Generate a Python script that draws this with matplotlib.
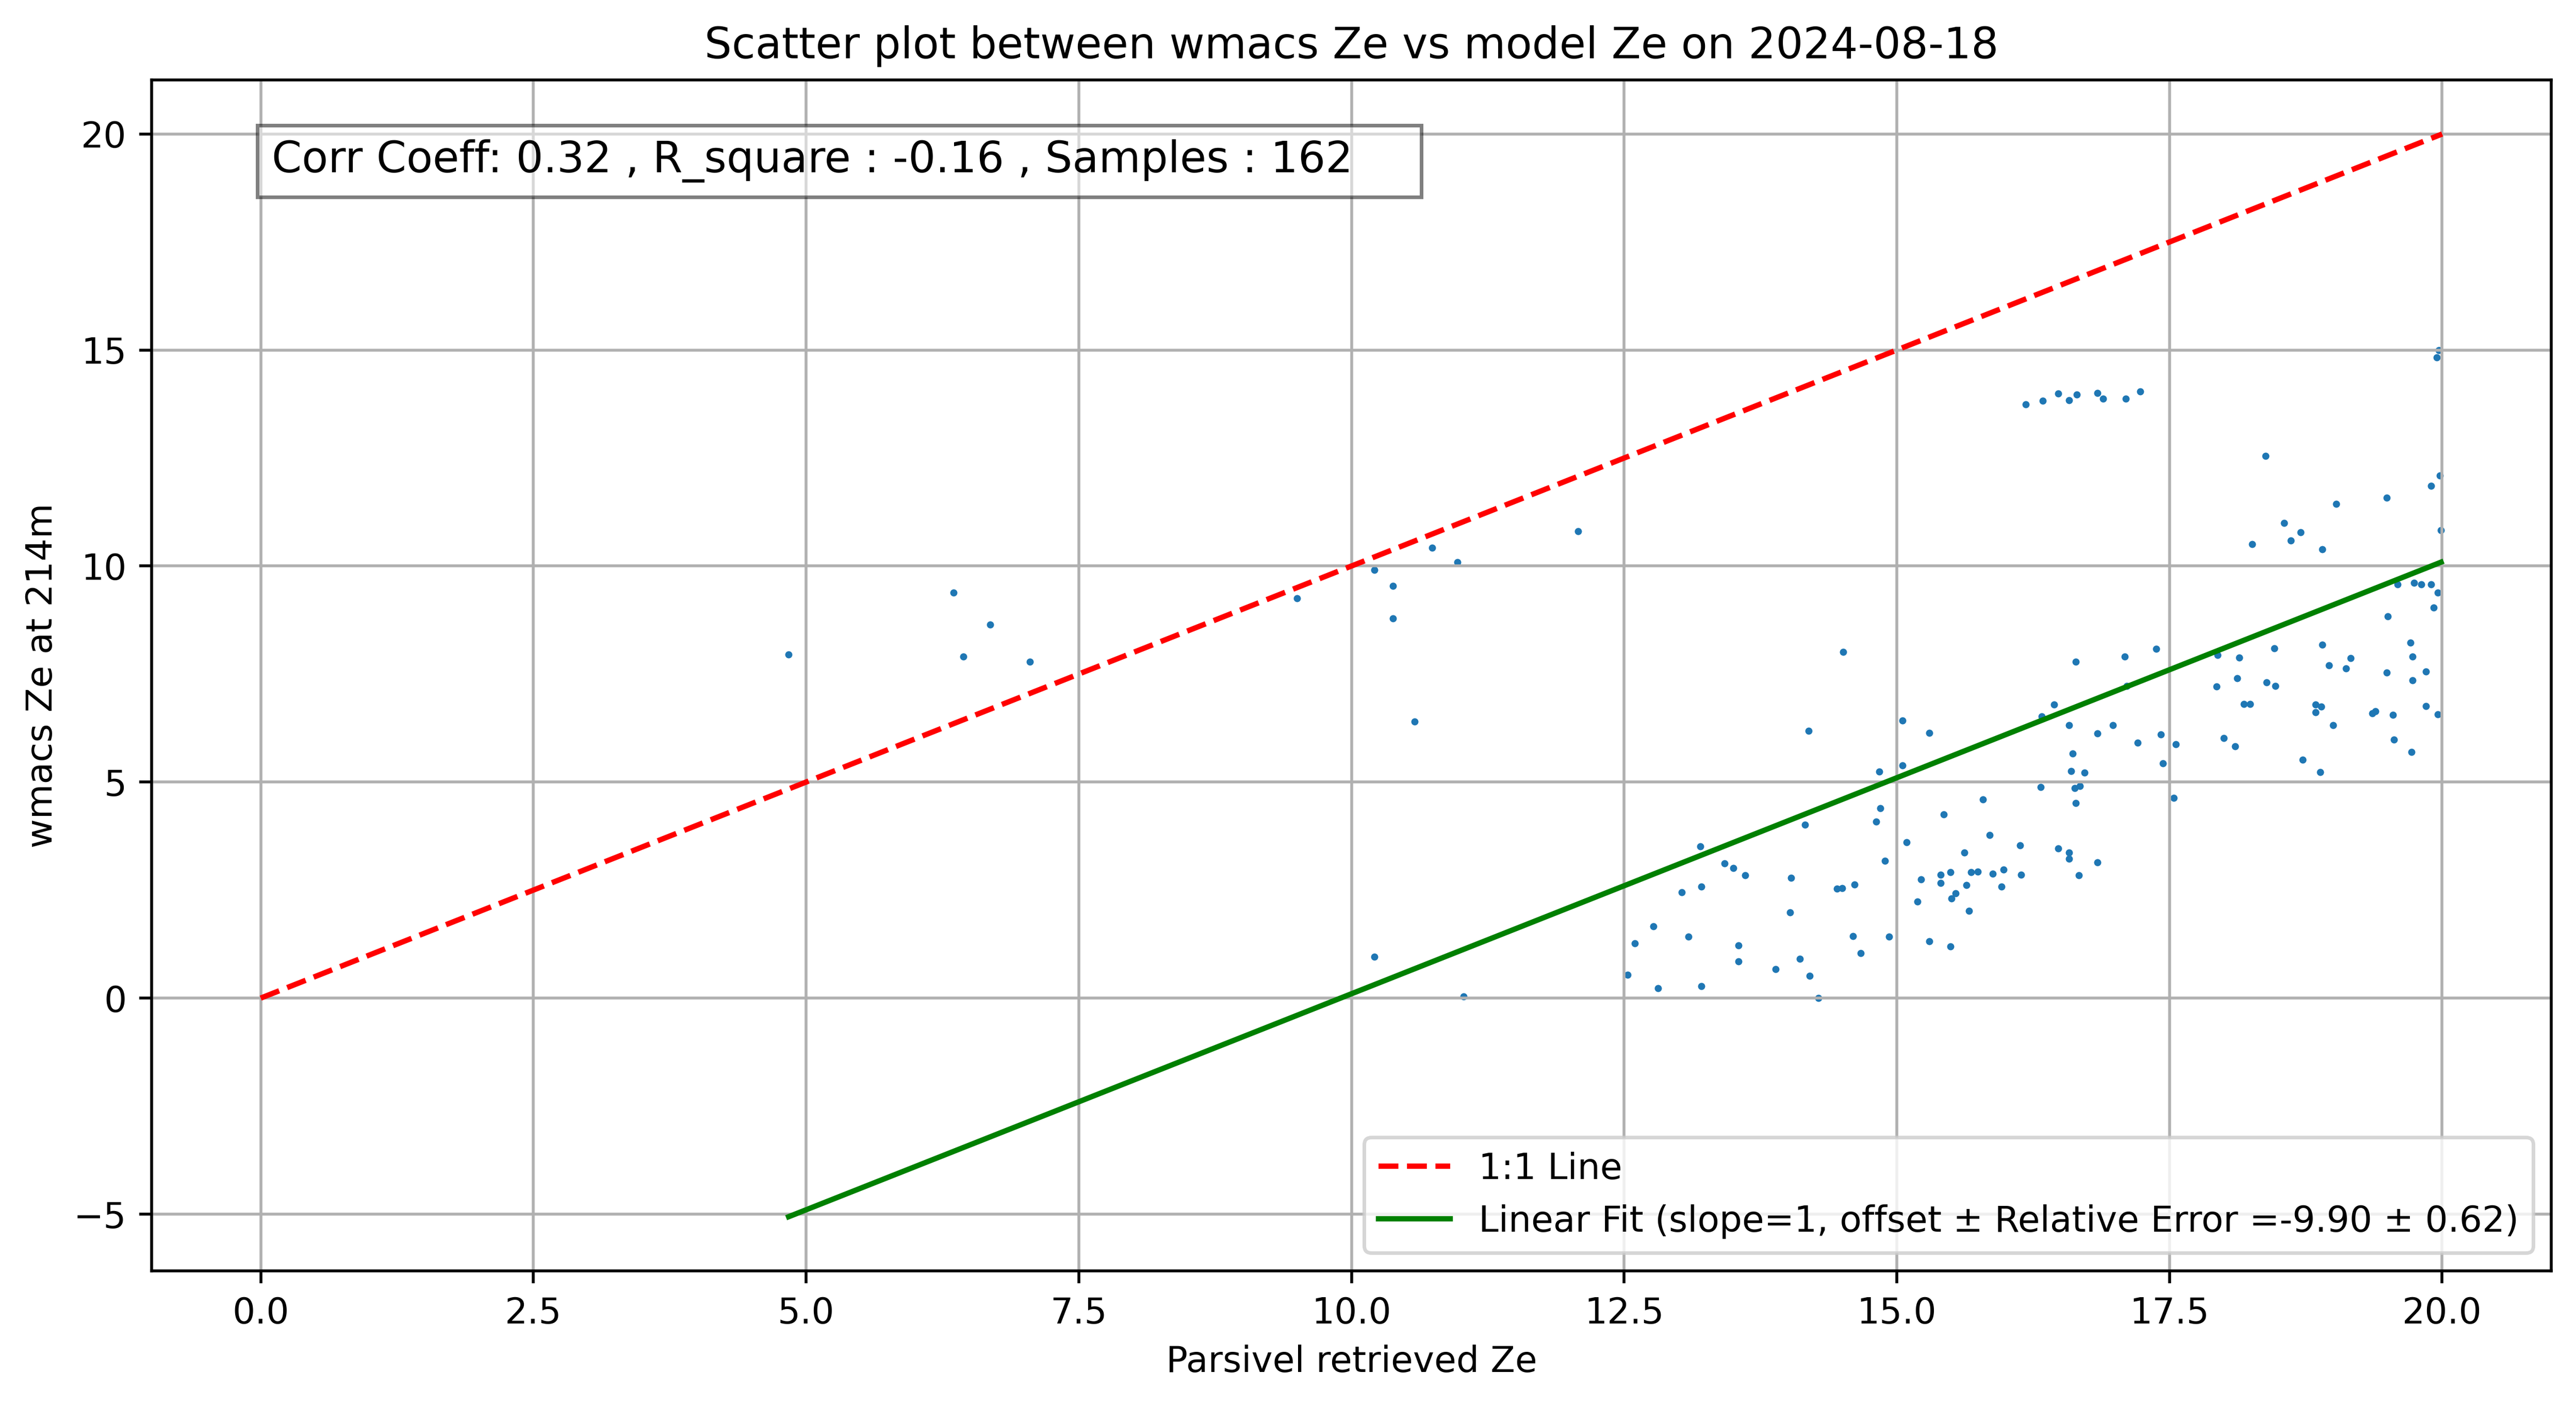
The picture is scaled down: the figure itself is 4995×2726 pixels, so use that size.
import numpy as np
import matplotlib
matplotlib.use("Agg")
import matplotlib.pyplot as plt

# values (162 samples)
ze_parsivel = [
    4.84, 6.35, 6.69, 6.44, 7.05, 9.50, 10.21, 10.38, 10.38, 10.58,
    10.74, 10.97, 12.08, 10.21, 11.03, 14.19, 14.16, 13.20, 13.42, 13.50,
    13.61, 14.03, 13.03, 13.21, 14.02, 12.77, 12.60, 13.09, 13.55, 13.55,
    14.11, 13.89, 14.20, 12.53, 12.81, 13.21, 14.28,
    14.51, 15.05, 15.30, 15.05, 14.84, 14.85, 14.81, 15.09, 14.89, 15.43,
    15.79, 15.85, 15.62, 15.49, 15.40, 15.40, 15.22, 15.68, 15.74, 15.88,
    15.98, 15.64, 15.96, 15.54, 15.50, 15.19, 15.66, 15.30, 15.49, 14.93,
    14.60, 14.67, 14.61, 14.45, 14.50,
    19.97, 19.95, 16.18, 16.34, 16.48, 16.58, 16.65, 16.84, 16.89, 17.10,
    17.23, 18.38, 19.98, 19.90, 19.49, 19.03, 18.55, 18.70, 18.61, 18.26,
    18.90, 19.99, 19.59, 19.74, 19.81, 19.90, 19.96, 19.92, 19.50, 19.71,
    19.73, 18.90, 18.46, 19.16, 18.96, 19.12, 19.85, 19.49, 19.73, 17.94,
    18.14, 18.12, 17.93, 18.39, 18.47, 18.18, 18.24, 18.84, 18.89, 18.84,
    19.36, 19.39, 19.85, 19.55, 19.96, 19.00, 19.56, 19.72, 18.00, 18.10,
    18.72, 18.88, 17.38, 17.09, 16.64, 17.11, 16.98, 16.58, 16.84, 17.21,
    17.42, 17.56, 16.44, 16.33, 16.61, 16.60, 16.72, 17.44, 16.32, 16.63,
    16.68, 16.64, 17.54,
    16.13, 16.48, 16.58, 16.58, 16.84, 16.67, 16.14,
]
ze_wmacs = [
    7.95, 9.38, 8.64, 7.90, 7.79, 9.25, 9.91, 9.54, 8.79, 6.40,
    10.42, 10.09, 10.80, 0.96, 0.04, 6.18, 4.01, 3.51, 3.12, 3.01,
    2.84, 2.78, 2.45, 2.58, 1.98, 1.66, 1.27, 1.42, 1.22, 0.85,
    0.91, 0.67, 0.51, 0.54, 0.23, 0.28, 0.00,
    8.01, 6.42, 6.14, 5.39, 5.24, 4.40, 4.09, 3.61, 3.18, 4.25,
    4.60, 3.77, 3.37, 2.91, 2.85, 2.67, 2.75, 2.91, 2.93, 2.88,
    2.97, 2.62, 2.58, 2.42, 2.30, 2.24, 2.02, 1.32, 1.20, 1.42,
    1.44, 1.04, 2.63, 2.53, 2.55,
    15.00, 14.83, 13.74, 13.82, 13.99, 13.84, 13.97, 14.00, 13.87, 13.87,
    14.04, 12.55, 12.10, 11.86, 11.58, 11.44, 11.00, 10.78, 10.59, 10.51,
    10.39, 10.83, 9.58, 9.61, 9.57, 9.57, 9.38, 9.04, 8.84, 8.23,
    7.91, 8.18, 8.10, 7.87, 7.70, 7.63, 7.56, 7.53, 7.35, 7.94,
    7.88, 7.40, 7.21, 7.31, 7.23, 6.81, 6.81, 6.79, 6.75, 6.61,
    6.59, 6.64, 6.76, 6.56, 6.57, 6.32, 5.98, 5.70, 6.02, 5.83,
    5.52, 5.23, 8.08, 7.91, 7.79, 7.22, 6.32, 6.32, 6.13, 5.91,
    6.10, 5.88, 6.80, 6.52, 5.66, 5.26, 5.22, 5.43, 4.88, 4.86,
    4.91, 4.51, 4.63,
    3.54, 3.46, 3.37, 3.23, 3.14, 2.84, 2.86,
]

one_to_one = [0, 20]
fit_offset = -9.90
fit_err = 0.62
corr_coeff = 0.32
r_square = -0.16
date_str = "2024-08-18"
height_str = "214m"

x = np.array(ze_parsivel)
y = np.array(ze_wmacs)
xs = np.sort(x)

fig = plt.figure(figsize=(9.99, 5.452), dpi=500)
ax = fig.add_axes([0.05886, 0.09611, 0.99039 - 0.05886, 0.94321 - 0.09611])

ax.scatter(x, y, s=4, linewidths=0, color="#1f77b4")
ax.plot(one_to_one, one_to_one, "r--", label="1:1 Line")
ax.plot(xs, xs + fit_offset, color="green",
        label=f"Linear Fit (slope=1, offset \u00b1 Relative Error ={fit_offset:.2f} \u00b1 {fit_err:.2f})")

# trailing spaces widen the box like in the original
ax.text(0.05, 0.95,
        f"Corr Coeff: {corr_coeff:.2f} , R_square : {r_square:.2f} , Samples : {len(x)}    ",
        transform=ax.transAxes, fontsize=12, va="top",
        bbox=dict(facecolor="white", alpha=0.5))

ax.set_xlabel("Parsivel retrieved Ze")
ax.set_ylabel(f"wmacs Ze at {height_str}")
ax.set_title(f"Scatter plot between wmacs Ze vs model Ze on {date_str}")
ax.legend(loc="lower right")
ax.grid(True)

fig.savefig("out.png", dpi=500)
